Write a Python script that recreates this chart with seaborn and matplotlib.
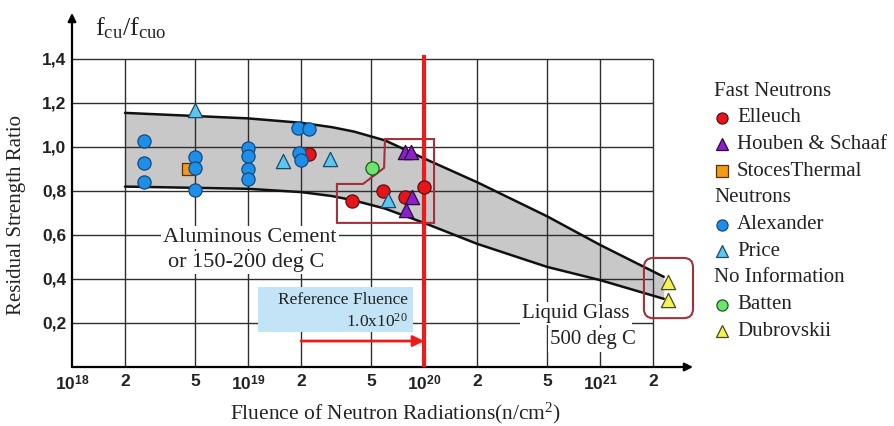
import numpy as np
import pandas as pd
import matplotlib
matplotlib.use("Agg")
import matplotlib.pyplot as plt
import seaborn as sns
from matplotlib.patches import Polygon, Rectangle, FancyBboxPatch
from matplotlib.lines import Line2D

# ---- data -----------------------------------------------------------------
# fluence in n/cm^2, residual strength ratio f_cu/f_cuo
elleuch_x = [2.22e19, 3.9e19, 5.85e19, 7.8e19, 1.0e20]
elleuch_y = [0.97, 0.755, 0.80, 0.773, 0.818]

houben_x = [7.8e19, 8.4e19, 8.5e19, 7.9e19]
houben_y = [0.977, 0.977, 0.773, 0.714]

stoces_x = [4.55e18]
stoces_y = [0.90]

alexander_x = [2.56e18, 2.56e18, 2.56e18,
               5.0e18, 5.0e18, 5.0e18,
               1.0e19, 1.0e19, 1.0e19, 1.0e19,
               1.92e19, 2.22e19, 1.95e19, 2.0e19]
alexander_y = [1.025, 0.925, 0.84,
               0.955, 0.905, 0.805,
               0.995, 0.96, 0.90, 0.855,
               1.086, 1.08, 0.972, 0.94]

price_x = [5.0e18, 1.58e19, 2.93e19, 6.24e19]
price_y = [1.17, 0.935, 0.945, 0.76]

batten_x = [5.07e19]
batten_y = [0.905]

dubrovskii_x = [2.43e21, 2.43e21]
dubrovskii_y = [0.386, 0.305]

# envelope of the scatter band
band_x = [2e18, 1e19, 2e19, 3e19, 4e19, 6e19, 1e20, 2e20, 5e20, 1e21, 2.3e21]
band_upper = [1.155, 1.13, 1.11, 1.09, 1.07, 1.03, 0.948, 0.84, 0.685, 0.555, 0.41]
band_lower = [0.82, 0.81, 0.795, 0.777, 0.757, 0.72, 0.655, 0.56, 0.455, 0.395, 0.31]

x_ticks = [1e18, 2e18, 5e18, 1e19, 2e19, 5e19, 1e20, 2e20, 5e20, 1e21, 2e21]
x_tick_labels = ["10$^{\\mathbf{18}}$", "2", "5", "10$^{\\mathbf{19}}$", "2", "5",
                 "10$^{\\mathbf{20}}$", "2", "5", "10$^{\\mathbf{21}}$", "2"]
y_ticks = [0.2, 0.4, 0.6, 0.8, 1.0, 1.2, 1.4]
y_tick_labels = ["0,2", "0,4", "0,6", "0,8", "1,0", "1,2", "1,4"]

reference_fluence = 1.0e20

# ---- styling ----------------------------------------------------------------
sns.set_theme(style="white")
plt.rcParams["font.family"] = ["Liberation Serif", "DejaVu Serif"]
plt.rcParams["mathtext.fontset"] = "custom"
plt.rcParams["mathtext.rm"] = "Liberation Serif"
plt.rcParams["mathtext.it"] = "Liberation Serif:italic"
plt.rcParams["mathtext.bf"] = "Liberation Sans:bold"

W, H = 895, 426
fig = plt.figure(figsize=(W / 100, H / 100), dpi=100)
fig.patch.set_facecolor("white")

def fx(px):
    return px / W

def fy(py):
    return 1 - py / H

ax = fig.add_axes([fx(72), fy(367), (693 - 72) / W, (367 - 13) / H])
ax.set_xscale("log")
ax.set_xlim(1e18, 10 ** 21.528)
ax.set_ylim(0, 1.609)
for s in ax.spines.values():
    s.set_visible(False)
ax.set_facecolor("white")

grid_c = "#2e2e2e"
# grid
ax.hlines(y_ticks, 1e18, 2e21, color=grid_c, lw=1.0, zorder=2)
ax.vlines(x_ticks[1:], 0, 1.4, color=grid_c, lw=1.0, zorder=2)

# band
ax.fill_between(band_x, band_lower, band_upper, color="#c8c8c8", lw=0, zorder=1)
sns.lineplot(x=band_x, y=band_upper, color="#111111", lw=1.8, ax=ax, zorder=3)
sns.lineplot(x=band_x, y=band_lower, color="#111111", lw=1.8, ax=ax, zorder=3)

# axes with arrows
arrow_kw = dict(arrowstyle="-|>", color="black", lw=1.6, mutation_scale=12,
                shrinkA=0, shrinkB=0)
ax.annotate("", xy=(0, 1), xytext=(0, 0), xycoords="axes fraction",
            textcoords="axes fraction", arrowprops=arrow_kw, annotation_clip=False)
ax.annotate("", xy=(1, 0), xytext=(0, 0), xycoords="axes fraction",
            textcoords="axes fraction", arrowprops=arrow_kw, annotation_clip=False)

ax.set_xticks(x_ticks)
ax.set_xticklabels(x_tick_labels)
ax.xaxis.set_minor_locator(matplotlib.ticker.NullLocator())
ax.set_yticks(y_ticks)
ax.set_yticklabels(y_tick_labels)
ax.tick_params(axis="both", length=0)
ax.tick_params(axis="y", pad=4)
ax.tick_params(axis="x", pad=5)
for lab in ax.get_xticklabels() + ax.get_yticklabels():
    lab.set_fontfamily("Liberation Sans")
    lab.set_fontweight("bold")
    lab.set_fontsize(12.5)
    lab.set_color("#222222")

# reference fluence
ax.vlines(reference_fluence, 0, 1.42, color="#ee1b1b", lw=3, zorder=6)
ax.add_patch(Rectangle((1.14e19, 0.159), 8.66e19 - 1.14e19, 0.364 - 0.159,
                       facecolor="#c2e4f6", edgecolor="none", zorder=4))
ax.text(8.1e19, 0.305, "Reference Fluence", ha="right", va="center",
        fontsize=12.5, color="#222222", zorder=5)
ax.text(8.1e19, 0.205, "1.0x10$^{20}$", ha="right", va="center",
        fontsize=12.5, color="#222222", zorder=5)
ax.annotate("", xy=(reference_fluence, 0.118), xytext=(2e19, 0.118),
            arrowprops=dict(arrowstyle="-|>", color="#ee1b1b", lw=2,
                            mutation_scale=16, shrinkA=0, shrinkB=0), zorder=6)

# annotations
txt_kw = dict(color="#222222", va="center", ha="left", zorder=4,
              bbox=dict(facecolor="white", edgecolor="none", pad=1.5))
ax.text(3.29e18, 0.59, "Aluminous Cement", fontsize=16, **txt_kw)
ax.text(3.51e18, 0.477, "or 150-200 deg C", fontsize=16, **txt_kw)
ax.text(3.6e20, 0.245, "Liquid Glass", fontsize=15, **txt_kw)
ax.text(5.2e20, 0.123, "500 deg C", fontsize=15, **txt_kw)

box_c = "#a5303a"
region = [(6.0e19, 1.036), (1.14e20, 1.036), (1.14e20, 0.655), (3.2e19, 0.655),
          (3.2e19, 0.832), (4.5e19, 0.832), (5.93e19, 0.905)]
ax.add_patch(Polygon(region, closed=True, fill=False, edgecolor=box_c, lw=1.5, zorder=4))
ax.add_patch(FancyBboxPatch((0.921, 0.138), 0.079, 0.170,
                            boxstyle="round,pad=0,rounding_size=0.015",
                            mutation_aspect=1.75, transform=ax.transAxes,
                            fill=False, edgecolor=box_c, lw=1.5, clip_on=False, zorder=4))

# data points
series = [
    ("Elleuch", elleuch_x, elleuch_y, "o", "#e8141c", "#5a1010"),
    ("Houben & Schaaf", houben_x, houben_y, "^", "#8a20c8", "#2a0a40"),
    ("StocesThermal", stoces_x, stoces_y, "s", "#f29a1a", "#5a3000"),
    ("Alexander", alexander_x, alexander_y, "o", "#1e8fe8", "#124a80"),
    ("Price", price_x, price_y, "^", "#5ec4f0", "#1a4a6a"),
    ("Batten", batten_x, batten_y, "o", "#6ee46e", "#1a5a1a"),
    ("Dubrovskii", dubrovskii_x, dubrovskii_y, "^", "#f2f25a", "#4a4a10"),
]
sizes = {"o": 90, "^": 105, "s": 70}
for name, xs, ys, mk, fc, ec in series:
    df = pd.DataFrame({"fluence": xs, "ratio": ys})
    sns.scatterplot(data=df, x="fluence", y="ratio", marker=mk, color=fc,
                    edgecolor=ec, linewidth=0.9, s=sizes[mk], ax=ax, zorder=7,
                    clip_on=False, legend=False)

ax.set_xlabel("")
ax.set_ylabel("")

# titles and labels
fig.text(fx(95), fy(28), "f$_{\\mathrm{cu}}$/f$_{\\mathrm{cuo}}$", fontsize=19,
         color="#222222", ha="left", va="center")
fig.text(fx(17), fy(215), "Residual Strength Ratio", rotation=90, fontsize=15,
         color="#222222", ha="center", va="center")
fig.text(fx(396), fy(413), "Fluence of Neutron Radiations(n/cm$^2$)", fontsize=15.5,
         color="#222222", ha="center", va="center")

# legend
legend_rows = [
    ("Fast Neutrons", None),
    ("Elleuch", 0), ("Houben & Schaaf", 1), ("StocesThermal", 2),
    ("Neutrons", None),
    ("Alexander", 3), ("Price", 4),
    ("No Information", None),
    ("Batten", 5), ("Dubrovskii", 6),
]
y0, dy = 91, 26.7
for i, (label, idx) in enumerate(legend_rows):
    yy = y0 + i * dy
    if idx is None:
        fig.text(fx(714), fy(yy), label, fontsize=15, color="#222222",
                 ha="left", va="center")
    else:
        _, _, _, mk, fc, ec = series[idx]
        fig.add_artist(Line2D([fx(722)], [fy(yy)], marker=mk, markersize=8,
                              markerfacecolor=fc, markeredgecolor=ec,
                              markeredgewidth=0.9, linestyle="none",
                              transform=fig.transFigure))
        fig.text(fx(737), fy(yy), label, fontsize=15, color="#222222",
                 ha="left", va="center")

fig.savefig("out.png", dpi=100, facecolor="white")
